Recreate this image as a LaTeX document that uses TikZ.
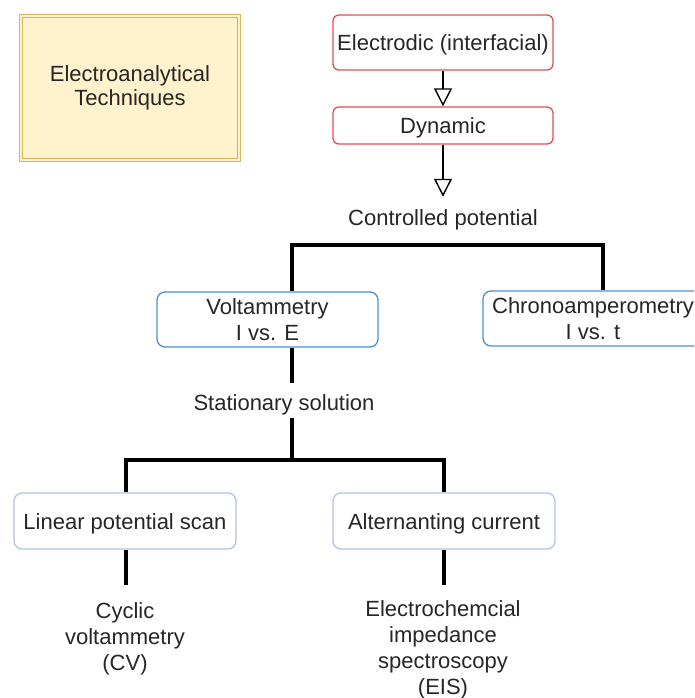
\documentclass[tikz,border=0pt]{standalone}
\usepackage{fontspec}
\setmainfont{Liberation Sans}
\usetikzlibrary{arrows.meta}

\definecolor{txt}{HTML}{262626}
\definecolor{notefill}{HTML}{FFF2CC}
\definecolor{noteline}{HTML}{D6B656}
\definecolor{redline}{HTML}{DF4F55}
\definecolor{blueline}{HTML}{4F8FD8}
\definecolor{paleline}{HTML}{AFC6E2}

\tikzset{
  every node/.style={font=\fontsize{22pt}{26pt}\selectfont, text=txt, align=center, inner sep=0pt},
  % a taller first line sets the text slightly lower in its node
  lowtext/.style={execute at begin node={\rule{0pt}{21.5pt}}},
  box/.style={rectangle, fill=white, line width=1.3pt, lowtext},
  redbox/.style={box, draw=redline, rounded corners=6pt},
  bluebox/.style={box, draw=blueline, rounded corners=8pt, minimum width=221pt, minimum height=55pt},
  palebox/.style={box, draw=paleline, rounded corners=8pt, minimum width=222pt, minimum height=56pt},
  notebox/.style={rectangle, fill=notefill, draw=noteline, line width=1.2pt, lowtext,
    double=notefill, double distance=2pt, minimum width=218pt, minimum height=144pt},
  label text/.style={lowtext},
  link/.style={line width=3.2pt, line join=miter},
  flow/.style={line width=1.7pt, -{Triangle[length=18pt, width=18pt, fill=white, line width=1.4pt]}},
}

\begin{document}
\begin{tikzpicture}[x=1pt, y=-1pt]
  \clip (0,0) rectangle (694,698);
  \fill[white] (0,0) rectangle (694,698);

  % title note
  \node[notebox, font=\fontsize{22pt}{24pt}\selectfont] (title) at (130,88) {Electroanalytical\\Techniques};

  % top chain
  \node[redbox, minimum width=220pt, minimum height=55pt] (elec) at (443,42.5) {Electrodic (interfacial)};
  \node[redbox, minimum width=220pt, minimum height=37pt] (dyn) at (443,125.5) {Dynamic};
  \node[label text] (ctrl) at (443,217) {Controlled potential};
  \draw[flow] (elec) -- (dyn);
  \draw[flow] (dyn) -- ([yshift=7pt]ctrl.north);

  % controlled potential branches
  \node[bluebox] (volt) at (267.5,319.5) {Voltammetry\\I vs. E};
  \node[bluebox, minimum width=220pt] (chrono) at (593,318.5) {Chronoamperometry\\I vs. t};

  \coordinate (c1) at (292,245);
  \coordinate (c2) at (603,245);
  \draw[link] (volt.north -| c1) -- (c1) -- (c2) -- (chrono.north -| c2);

  % stationary solution
  \node[label text] (stat) at (284,402) {Stationary solution};
  \coordinate (s1) at (292,383);
  \coordinate (s2) at (292,418);
  \draw[link] (volt.south -| s1) -- (s1);

  \node[palebox] (lin) at (125,521) {Linear potential scan};
  \node[palebox] (alt) at (444,521) {Alternanting current};

  \coordinate (c3) at (126,460);
  \coordinate (c4) at (444,460);
  \draw[link] (s2) -- (s2 |- c3);
  \draw[link] (lin.north -| c3) -- (c3) -- (c4) -- (alt.north -| c4);

  % leaves
  \node[label text] (cv) at (125,639) {Cyclic\\voltammetry\\(CV)};
  \node[label text] (eis) at (443,650) {Electrochemcial\\impedance\\spectroscopy\\(EIS)};
  \coordinate (e1) at (126,585);
  \coordinate (e2) at (444,585);
  \draw[link] (lin.south -| e1) -- (e1);
  \draw[link] (alt.south -| e2) -- (e2);
\end{tikzpicture}
\end{document}
